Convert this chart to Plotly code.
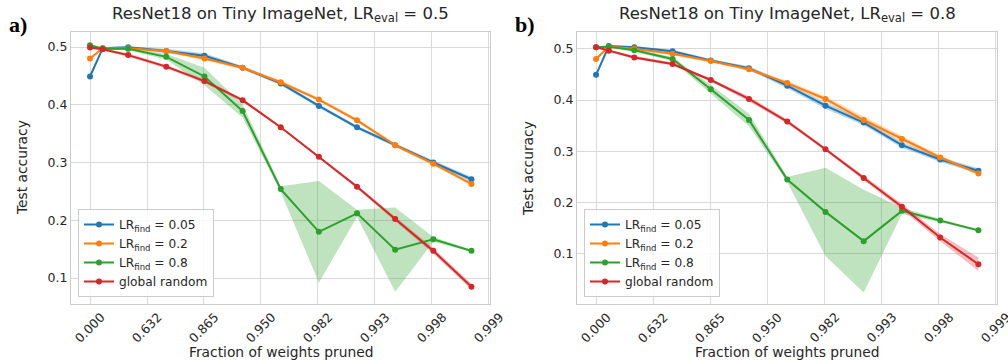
import math
import plotly.graph_objects as go

# Pruning rounds at which each network was evaluated (20% of remaining weights removed per round)
rounds = [0, 1, 3, 6, 9, 12, 15, 18, 21, 24, 27, 30]
keep_per_round = 0.8

tick_labels = ["0.000", "0.632", "0.865", "0.950", "0.982", "0.993", "0.998", "0.999"]

series_names = ["LR<sub>find</sub> = 0.05", "LR<sub>find</sub> = 0.2",
                "LR<sub>find</sub> = 0.8", "global random"]
colors = ["#1f77b4", "#ff7f0e", "#2ca02c", "#d62728"]
fills = ["rgba(31,119,180,0.3)", "rgba(255,127,14,0.3)",
         "rgba(44,160,44,0.3)", "rgba(214,39,40,0.3)"]

# Panel a: LR_eval = 0.5 (mean test accuracy)
a_lr005 = [0.449, 0.498, 0.4995, 0.493, 0.485, 0.464, 0.437, 0.398, 0.361, 0.330, 0.300, 0.271]
a_lr02 = [0.480, 0.498, 0.498, 0.493, 0.480, 0.464, 0.439, 0.409, 0.373, 0.330, 0.298, 0.263]
a_lr08 = [0.503, 0.497, 0.497, 0.483, 0.449, 0.389, 0.254, 0.180, 0.212, 0.149, 0.167, 0.147]
a_rand = [0.499, 0.496, 0.486, 0.466, 0.441, 0.408, 0.361, 0.310, 0.258, 0.202, 0.147, 0.085]
# spread (half-width of the shaded band)
a_lr005_sd = [0.002, 0.002, 0.002, 0.004, 0.004, 0.003, 0.003, 0.003, 0.003, 0.003, 0.004, 0.004]
a_lr02_sd = [0.002, 0.002, 0.002, 0.003, 0.003, 0.003, 0.003, 0.003, 0.003, 0.003, 0.003, 0.003]
a_lr08_sd = [0.002, 0.002, 0.002, 0.005, 0.015, 0.011, 0.005, 0.088, 0.006, 0.073, 0.004, 0.002]
a_rand_sd = [0.002, 0.002, 0.003, 0.003, 0.003, 0.003, 0.002, 0.002, 0.003, 0.004, 0.005, 0.005]

# Panel b: LR_eval = 0.8
b_lr005 = [0.449, 0.505, 0.503, 0.495, 0.477, 0.462, 0.428, 0.389, 0.356, 0.312, 0.284, 0.262]
b_lr02 = [0.480, 0.504, 0.500, 0.490, 0.476, 0.460, 0.433, 0.402, 0.361, 0.324, 0.288, 0.257]
b_lr08 = [0.503, 0.504, 0.497, 0.480, 0.421, 0.361, 0.245, 0.182, 0.125, 0.184, 0.165, 0.146]
b_rand = [0.503, 0.496, 0.483, 0.470, 0.439, 0.402, 0.358, 0.304, 0.248, 0.192, 0.132, 0.080]
b_lr005_sd = [0.002, 0.002, 0.002, 0.003, 0.003, 0.004, 0.005, 0.006, 0.005, 0.005, 0.005, 0.005]
b_lr02_sd = [0.002, 0.002, 0.002, 0.003, 0.003, 0.003, 0.004, 0.005, 0.007, 0.006, 0.004, 0.003]
b_lr08_sd = [0.002, 0.002, 0.003, 0.004, 0.008, 0.012, 0.005, 0.086, 0.100, 0.006, 0.003, 0.002]
b_rand_sd = [0.002, 0.002, 0.003, 0.003, 0.003, 0.005, 0.004, 0.003, 0.004, 0.006, 0.007, 0.013]

# Position along the axis: log compression factor, so ticks sit at 1 - e^-n
xs = [-r * math.log(keep_per_round) for r in rounds]
tick_pos = list(range(len(tick_labels)))

fig = go.Figure()

panels = [
    ("x", "y", "legend", [a_lr005, a_lr02, a_lr08, a_rand],
     [a_lr005_sd, a_lr02_sd, a_lr08_sd, a_rand_sd]),
    ("x2", "y2", "legend2", [b_lr005, b_lr02, b_lr08, b_rand],
     [b_lr005_sd, b_lr02_sd, b_lr08_sd, b_rand_sd]),
]

for xa, ya, leg, means, sds in panels:
    for i in range(4):
        upper = [m + s for m, s in zip(means[i], sds[i])]
        lower = [m - s for m, s in zip(means[i], sds[i])]
        fig.add_trace(go.Scatter(
            x=xs + xs[::-1], y=upper + lower[::-1], fill="toself",
            fillcolor=fills[i], line=dict(width=0), mode="lines",
            hoverinfo="skip", showlegend=False, xaxis=xa, yaxis=ya))
    for i in range(4):
        fig.add_trace(go.Scatter(
            x=xs, y=means[i], mode="lines+markers", name=series_names[i],
            line=dict(color=colors[i], width=2), marker=dict(size=6, color=colors[i]),
            xaxis=xa, yaxis=ya, legend=leg))

W, H = 1008, 360
grid = "#d9d9d9"
frame = "#cccccc"
txt = "#262626"
font = "DejaVu Sans"

# x tick labels are drawn as rotated annotations centred under each tick
xaxis_common = dict(
    range=[-0.334, 7.02], tickmode="array", tickvals=tick_pos, showticklabels=False,
    showgrid=True, gridcolor=grid, gridwidth=1, zeroline=False,
    showline=True, linecolor=frame, linewidth=1.3, mirror=True, ticks="", automargin=False,
)
yaxis_common = dict(
    tickvals=[0.1, 0.2, 0.3, 0.4, 0.5], ticktext=["0.1", "0.2", "0.3", "0.4", "0.5"],
    showgrid=True, gridcolor=grid, gridwidth=1, zeroline=False,
    showline=True, linecolor=frame, linewidth=1.3, mirror=True, ticks="",
    tickfont=dict(family=font, size=12.5, color=txt), automargin=False,
)

ydom = [1 - 304 / H, 1 - 32 / H]
dom_a = [71 / W, 490 / W]
dom_b = [577 / W, 997 / W]

legend_common = dict(
    font=dict(family=font, size=12.2, color=txt), bgcolor="rgba(255,255,255,0.85)",
    bordercolor="#cccccc", borderwidth=1, xanchor="left", yanchor="bottom",
    tracegroupgap=0, itemwidth=30,
)

fig.update_layout(
    width=W, height=H, margin=dict(l=0, r=0, t=0, b=0, autoexpand=False),
    paper_bgcolor="white", plot_bgcolor="white",
    xaxis=dict(domain=dom_a, anchor="y", **xaxis_common),
    yaxis=dict(domain=ydom, anchor="x", range=[0.055, 0.526], **yaxis_common),
    xaxis2=dict(domain=dom_b, anchor="y2", **xaxis_common),
    yaxis2=dict(domain=ydom, anchor="x2", range=[0.0025, 0.5325], **yaxis_common),
    legend=dict(x=dom_a[0] + 7 / W, y=ydom[0] + 7 / H, **legend_common),
    legend2=dict(x=dom_b[0] + 7 / W, y=ydom[0] + 7 / H, **legend_common),
    showlegend=True,
)

annotations = []
for xref, dom, label, lr in [("x", dom_a, "a)", "0.5"), ("x2", dom_b, "b)", "0.8")]:
    cx = (dom[0] + dom[1]) / 2
    for pos, lab in zip(tick_pos, tick_labels):
        annotations.append(dict(
            text=lab, x=pos, y=1 - 307 / H, xref=xref, yref="paper", showarrow=False,
            xanchor="center", yanchor="top", textangle=-45,
            font=dict(family=font, size=12.5, color=txt)))
    annotations.append(dict(
        text=f"ResNet18 on Tiny ImageNet, LR<sub>eval</sub> = {lr}", x=cx, y=1 - 15 / H,
        xref="paper", yref="paper", showarrow=False, xanchor="center", yanchor="middle",
        font=dict(family=font, size=16.5, color=txt)))
    annotations.append(dict(
        text="Fraction of weights pruned", x=cx, y=1 - 352 / H,
        xref="paper", yref="paper", showarrow=False, xanchor="center", yanchor="middle",
        font=dict(family=font, size=13.8, color=txt)))
    annotations.append(dict(
        text="Test accuracy", x=dom[0] - 49 / W, y=(ydom[0] + ydom[1]) / 2,
        xref="paper", yref="paper", showarrow=False, xanchor="center", yanchor="middle",
        textangle=-90, font=dict(family=font, size=13.8, color=txt)))
    annotations.append(dict(
        text=f"<b>{label}</b>", x=dom[0] - 64 / W, y=1 - 25 / H,
        xref="paper", yref="paper", showarrow=False, xanchor="left", yanchor="middle",
        font=dict(family="Liberation Serif", size=22, color="black")))
fig.update_layout(annotations=annotations)

fig.write_html("out.html")
